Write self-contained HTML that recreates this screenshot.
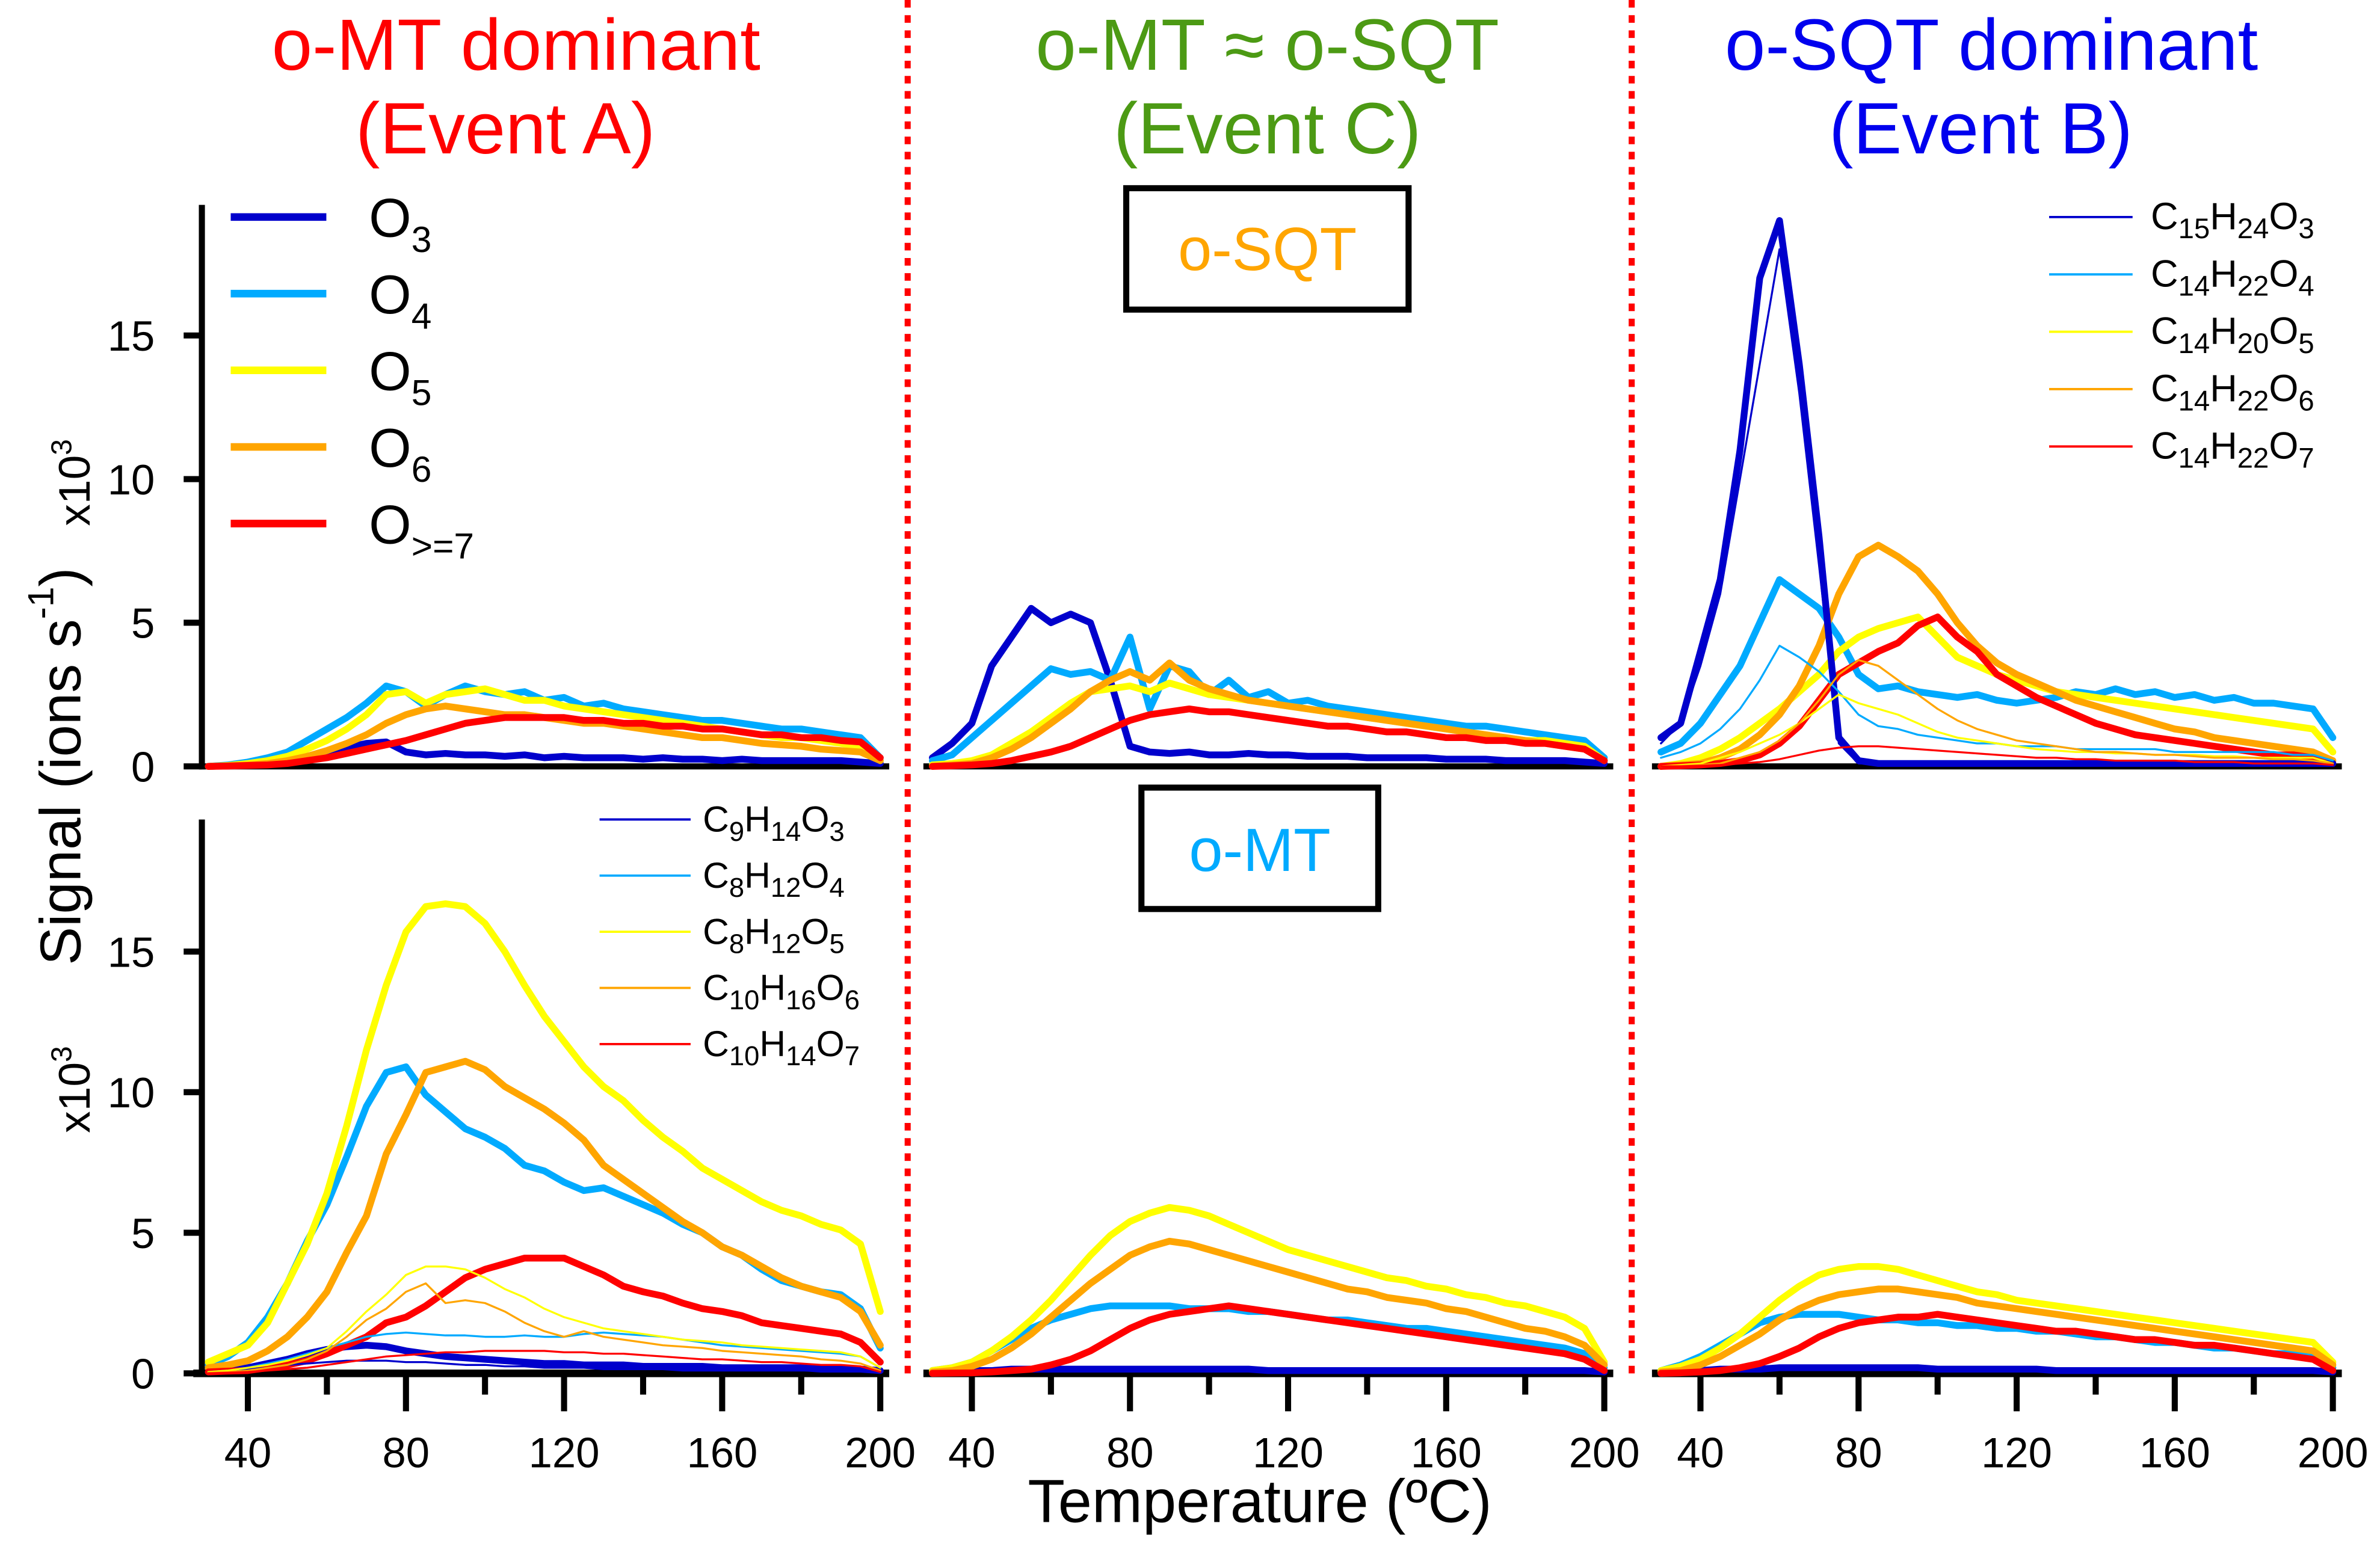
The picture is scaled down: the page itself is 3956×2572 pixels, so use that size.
<!DOCTYPE html>
<html><head><meta charset="utf-8">
<style>
html,body{margin:0;padding:0;background:#fff;}
svg{display:block;font-family:"Liberation Sans",Arial,sans-serif;}
</style></head>
<body>
<svg id="chart" width="3956" height="2572" viewBox="0 0 1568 1019.4" xmlns="http://www.w3.org/2000/svg">
<g id="static">
  <text x="340" y="46" font-size="48" fill="#ff0000" text-anchor="middle">o-MT dominant</text>
  <text x="333" y="101" font-size="48" fill="#ff0000" text-anchor="middle">(Event A)</text>
  <text x="835" y="46" font-size="48" fill="#4c9a14" text-anchor="middle">o-MT ≈ o-SQT</text>
  <text x="835" y="101" font-size="48" fill="#4c9a14" text-anchor="middle">(Event C)</text>
  <text x="1312" y="46" font-size="48" fill="#0000ee" text-anchor="middle">o-SQT dominant</text>
  <text x="1305" y="101" font-size="48" fill="#0000ee" text-anchor="middle">(Event B)</text>

  <line x1="598" y1="0" x2="598" y2="905" stroke="#ff0000" stroke-width="4" stroke-dasharray="5,5"/>
  <line x1="1075" y1="0" x2="1075" y2="905" stroke="#ff0000" stroke-width="4" stroke-dasharray="5,5"/>

  <rect x="742" y="124" width="186" height="80" fill="none" stroke="#000" stroke-width="4"/>
  <text x="835" y="178" font-size="40" fill="#ffa500" text-anchor="middle">o-SQT</text>
  <rect x="752" y="519" width="156" height="80" fill="none" stroke="#000" stroke-width="4"/>
  <text x="830" y="574" font-size="40" fill="#00aaff" text-anchor="middle">o-MT</text>

  <text transform="translate(53,505) rotate(-90)" font-size="38" text-anchor="middle">Signal (ions s<tspan font-size="24" dy="-18">-1</tspan><tspan dy="18">)</tspan></text>
  <text transform="translate(59,318) rotate(-90)" font-size="29" text-anchor="middle">x10<tspan font-size="19" dy="-12">3</tspan></text>
  <text transform="translate(59,718) rotate(-90)" font-size="29" text-anchor="middle">x10<tspan font-size="19" dy="-12">3</tspan></text>
  <text x="830" y="1003" font-size="40" text-anchor="middle">Temperature (ºC)</text>
</g>
<g id="axes"></g>
<g id="series"></g>
<g id="legends"></g>
</svg>
<script>
const temps = [30,35,40,45,50,55,60,65,70,75,80,85,90,95,100,105,110,115,120,125,130,135,140,145,150,155,160,165,170,175,180,185,190,195,200];
const xTicks = [40,80,120,160,200];
const xMinorTicks = [60,100,140,180];
const yTicks = [0,5,10,15];

// Panel 1 (Event A) top row: o-SQT
const p1TopO3 = [0,0.02,0.05,0.1,0.2,0.35,0.5,0.65,0.8,0.85,0.5,0.4,0.45,0.4,0.4,0.35,0.4,0.3,0.35,0.3,0.3,0.3,0.25,0.3,0.25,0.25,0.2,0.25,0.2,0.2,0.2,0.2,0.2,0.15,0.1];
const p1TopO4 = [0,0.05,0.15,0.3,0.5,0.9,1.3,1.7,2.2,2.8,2.6,2.1,2.5,2.8,2.6,2.5,2.6,2.3,2.4,2.1,2.2,2.0,1.9,1.8,1.7,1.6,1.6,1.5,1.4,1.3,1.3,1.2,1.1,1.0,0.3];
const p1TopO5 = [0,0.03,0.1,0.2,0.35,0.6,0.9,1.3,1.8,2.5,2.6,2.2,2.5,2.6,2.7,2.5,2.3,2.3,2.1,2.0,1.9,1.8,1.7,1.6,1.5,1.4,1.3,1.2,1.1,1.0,1.0,0.9,0.8,0.7,0.2];
const p1TopO6 = [0,0.02,0.05,0.1,0.2,0.35,0.55,0.8,1.1,1.5,1.8,2.0,2.1,2.0,1.9,1.8,1.8,1.7,1.6,1.5,1.5,1.4,1.3,1.2,1.1,1.0,1.0,0.9,0.8,0.75,0.7,0.6,0.55,0.5,0.2];
const p1TopO7 = [0,0.01,0.03,0.05,0.1,0.2,0.3,0.45,0.6,0.75,0.9,1.1,1.3,1.5,1.6,1.7,1.7,1.7,1.7,1.6,1.6,1.5,1.5,1.4,1.4,1.3,1.3,1.2,1.1,1.1,1.0,1.0,0.9,0.85,0.3];
// Panel 1 bottom row: o-MT
const p1BotO3 = [0.05,0.1,0.2,0.35,0.5,0.7,0.85,0.95,1.0,0.95,0.8,0.7,0.6,0.55,0.5,0.45,0.4,0.35,0.35,0.3,0.3,0.3,0.25,0.25,0.25,0.25,0.2,0.2,0.2,0.2,0.2,0.15,0.15,0.15,0.1];
const p1BotO4 = [0.3,0.6,1.1,2.0,3.2,4.7,6.0,7.7,9.5,10.7,10.9,9.9,9.3,8.7,8.4,8.0,7.4,7.2,6.8,6.5,6.6,6.3,6.0,5.7,5.3,5.0,4.5,4.2,3.7,3.3,3.1,2.9,2.8,2.3,0.9];
const p1BotO5 = [0.4,0.7,1.0,1.8,3.2,4.6,6.4,8.8,11.5,13.8,15.7,16.6,16.7,16.6,16.0,15.0,13.8,12.7,11.8,10.9,10.2,9.7,9.0,8.4,7.9,7.3,6.9,6.5,6.1,5.8,5.6,5.3,5.1,4.6,2.2];
const p1BotO6 = [0.2,0.3,0.45,0.8,1.3,2.0,2.9,4.3,5.6,7.8,9.2,10.7,10.9,11.1,10.8,10.2,9.8,9.4,8.9,8.3,7.4,6.9,6.4,5.9,5.4,5.0,4.5,4.2,3.8,3.4,3.1,2.9,2.7,2.2,1.0];
const p1BotO7 = [0.05,0.08,0.1,0.2,0.3,0.45,0.7,1.0,1.3,1.8,2.0,2.4,2.9,3.4,3.7,3.9,4.1,4.1,4.1,3.8,3.5,3.1,2.9,2.75,2.5,2.3,2.2,2.05,1.8,1.7,1.6,1.5,1.4,1.1,0.4];
const p1C9H14O3 = [0.05,0.1,0.15,0.2,0.3,0.35,0.4,0.45,0.45,0.45,0.4,0.4,0.35,0.3,0.3,0.25,0.25,0.2,0.2,0.2,0.15,0.15,0.15,0.15,0.1,0.1,0.1,0.1,0.1,0.1,0.1,0.1,0.1,0.1,0.05];
const p1C8H12O4 = [0.05,0.1,0.2,0.35,0.5,0.7,0.9,1.1,1.3,1.4,1.45,1.4,1.35,1.35,1.3,1.3,1.35,1.3,1.3,1.4,1.45,1.4,1.35,1.3,1.2,1.1,1.0,0.95,0.9,0.85,0.8,0.75,0.7,0.6,0.2];
const p1C8H12O5 = [0.05,0.1,0.2,0.3,0.45,0.65,0.9,1.5,2.2,2.8,3.5,3.8,3.8,3.7,3.4,3.0,2.7,2.3,2.0,1.8,1.6,1.5,1.4,1.3,1.2,1.15,1.1,1.0,0.95,0.9,0.85,0.8,0.75,0.6,0.2];
const p1C10H16O6 = [0.02,0.05,0.1,0.2,0.3,0.5,0.8,1.3,1.9,2.3,2.9,3.2,2.5,2.6,2.5,2.2,1.8,1.5,1.3,1.5,1.3,1.2,1.1,1.0,0.95,0.9,0.8,0.75,0.7,0.65,0.6,0.5,0.45,0.35,0.1];
const p1C10H14O7 = [0,0.02,0.05,0.1,0.15,0.2,0.3,0.4,0.5,0.6,0.65,0.7,0.75,0.75,0.8,0.8,0.8,0.8,0.75,0.75,0.7,0.7,0.65,0.6,0.55,0.5,0.5,0.45,0.4,0.4,0.35,0.3,0.3,0.25,0.05];

// Panel 2 (Event C)
const p2TopO3 = [0.3,0.8,1.5,3.5,4.5,5.5,5.0,5.3,5.0,3.0,0.7,0.5,0.45,0.5,0.4,0.4,0.45,0.4,0.4,0.35,0.35,0.35,0.3,0.3,0.3,0.3,0.25,0.25,0.25,0.2,0.2,0.2,0.2,0.15,0.1];
const p2TopO4 = [0.2,0.4,1.0,1.6,2.2,2.8,3.4,3.2,3.3,3.0,4.5,2.0,3.5,3.3,2.5,3.0,2.4,2.6,2.2,2.3,2.1,2.0,1.9,1.8,1.7,1.6,1.5,1.4,1.4,1.3,1.2,1.1,1.0,0.9,0.3];
const p2TopO5 = [0.05,0.1,0.2,0.4,0.8,1.2,1.7,2.2,2.6,2.7,2.8,2.6,2.9,2.7,2.5,2.4,2.3,2.2,2.1,2.0,1.9,1.8,1.7,1.6,1.5,1.4,1.3,1.2,1.1,1.0,0.9,0.9,0.8,0.7,0.2];
const p2TopO6 = [0,0.05,0.1,0.3,0.6,1.0,1.5,2.0,2.6,3.0,3.3,3.0,3.6,3.0,2.7,2.5,2.3,2.2,2.1,2.0,1.9,1.8,1.7,1.6,1.5,1.4,1.3,1.2,1.1,1.0,0.9,0.8,0.7,0.6,0.2];
const p2TopO7 = [0,0.02,0.05,0.1,0.2,0.35,0.5,0.7,1.0,1.3,1.6,1.8,1.9,2.0,1.9,1.9,1.8,1.7,1.6,1.5,1.4,1.4,1.3,1.2,1.2,1.1,1.0,1.0,0.9,0.9,0.8,0.8,0.7,0.6,0.2];
const p2BotO3 = [0.05,0.1,0.1,0.1,0.15,0.15,0.15,0.15,0.15,0.15,0.15,0.15,0.15,0.15,0.15,0.15,0.15,0.1,0.1,0.1,0.1,0.1,0.1,0.1,0.1,0.1,0.1,0.1,0.1,0.1,0.1,0.1,0.1,0.1,0.05];
const p2BotO4 = [0.1,0.2,0.4,0.8,1.2,1.6,1.9,2.1,2.3,2.4,2.4,2.4,2.4,2.3,2.3,2.3,2.2,2.2,2.1,2.0,1.9,1.9,1.8,1.7,1.6,1.6,1.5,1.4,1.3,1.2,1.1,1.0,0.9,0.7,0.2];
const p2BotO5 = [0.1,0.2,0.4,0.8,1.3,1.9,2.6,3.4,4.2,4.9,5.4,5.7,5.9,5.8,5.6,5.3,5.0,4.7,4.4,4.2,4.0,3.8,3.6,3.4,3.3,3.1,3.0,2.8,2.7,2.5,2.4,2.2,2.0,1.6,0.4];
const p2BotO6 = [0.05,0.1,0.25,0.5,0.9,1.4,2.0,2.6,3.2,3.7,4.2,4.5,4.7,4.6,4.4,4.2,4.0,3.8,3.6,3.4,3.2,3.0,2.9,2.7,2.6,2.5,2.3,2.2,2.0,1.8,1.6,1.5,1.3,1.0,0.3];
const p2BotO7 = [0,0.01,0.02,0.05,0.1,0.15,0.3,0.5,0.8,1.2,1.6,1.9,2.1,2.2,2.3,2.4,2.3,2.2,2.1,2.0,1.9,1.8,1.7,1.6,1.5,1.4,1.3,1.2,1.1,1.0,0.9,0.8,0.7,0.5,0.1];

// Panel 3 (Event B)
const p3TopO3 = [1,1.5,4,6.5,11,17,19,14,8,1,0.2,0.1,0.1,0.1,0.1,0.1,0.1,0.1,0.1,0.1,0.1,0.1,0.1,0.1,0.1,0.1,0.1,0.1,0.1,0.1,0.1,0.1,0.1,0.1,0.1];
const p3TopO4 = [0.5,0.8,1.5,2.5,3.5,5,6.5,6.0,5.5,4.5,3.2,2.7,2.8,2.6,2.5,2.4,2.5,2.3,2.2,2.3,2.4,2.6,2.5,2.7,2.5,2.6,2.4,2.5,2.3,2.4,2.2,2.2,2.1,2.0,1.0];
const p3TopO5 = [0,0.1,0.3,0.6,1,1.5,2.0,2.6,3.2,4.0,4.5,4.8,5.0,5.2,4.5,3.8,3.5,3.2,3.0,2.8,2.6,2.5,2.4,2.3,2.2,2.1,2.0,1.9,1.8,1.7,1.6,1.5,1.4,1.3,0.5];
const p3TopO6 = [0,0.05,0.1,0.3,0.6,1.1,1.8,2.8,4.2,6.0,7.3,7.7,7.3,6.8,6.0,5.0,4.2,3.6,3.2,2.9,2.6,2.3,2.1,1.9,1.7,1.5,1.3,1.2,1.0,0.9,0.8,0.7,0.6,0.5,0.2];
const p3TopO7 = [0,0.02,0.05,0.1,0.2,0.4,0.8,1.4,2.3,3.2,3.6,4.0,4.3,4.9,5.2,4.5,4.0,3.2,2.8,2.4,2.1,1.8,1.5,1.3,1.1,1.0,0.9,0.8,0.7,0.6,0.5,0.4,0.4,0.3,0.1];
const p3C15H24O3 = [0.8,1.5,3.5,6,10,14,18,13,7,0.8,0.1,0.1,0.1,0.1,0.1,0.1,0.1,0.1,0.1,0.1,0.1,0.1,0.1,0.1,0.1,0.1,0.1,0.1,0.1,0.1,0.1,0.1,0.1,0.1,0.1];
const p3C14H22O4 = [0.3,0.5,0.8,1.3,2,3,4.2,3.8,3.3,2.6,1.8,1.4,1.3,1.1,1.0,0.9,0.8,0.8,0.7,0.7,0.7,0.6,0.6,0.6,0.6,0.6,0.5,0.5,0.5,0.5,0.5,0.5,0.4,0.4,0.2];
const p3C14H20O5 = [0,0.05,0.1,0.3,0.5,0.8,1.1,1.5,2.0,2.5,2.2,2.0,1.8,1.5,1.2,1.0,0.9,0.8,0.7,0.6,0.55,0.5,0.5,0.45,0.45,0.4,0.4,0.4,0.35,0.35,0.3,0.3,0.3,0.3,0.1];
const p3C14H22O6 = [0,0.02,0.05,0.1,0.3,0.5,0.9,1.5,2.3,3.2,3.7,3.5,3.0,2.5,2.0,1.6,1.3,1.1,0.9,0.8,0.7,0.6,0.5,0.5,0.45,0.4,0.4,0.35,0.3,0.3,0.3,0.25,0.25,0.2,0.1];
const p3C14H22O7 = [0,0,0.02,0.05,0.1,0.15,0.25,0.4,0.55,0.65,0.7,0.7,0.65,0.6,0.55,0.5,0.45,0.4,0.35,0.3,0.3,0.25,0.25,0.2,0.2,0.2,0.2,0.15,0.15,0.15,0.1,0.1,0.1,0.1,0.05];
const p3BotO3 = [0.05,0.1,0.1,0.15,0.15,0.15,0.2,0.2,0.2,0.2,0.2,0.2,0.2,0.2,0.15,0.15,0.15,0.15,0.15,0.15,0.1,0.1,0.1,0.1,0.1,0.1,0.1,0.1,0.1,0.1,0.1,0.1,0.1,0.1,0.05];
const p3BotO4 = [0.1,0.3,0.6,1.0,1.4,1.8,2.0,2.1,2.1,2.1,2.0,1.9,1.9,1.8,1.8,1.7,1.7,1.6,1.6,1.5,1.5,1.4,1.3,1.3,1.2,1.1,1.1,1.0,0.9,0.9,0.8,0.7,0.7,0.6,0.2];
const p3BotO5 = [0.1,0.25,0.5,0.9,1.4,2.0,2.6,3.1,3.5,3.7,3.8,3.8,3.7,3.5,3.3,3.1,2.9,2.8,2.6,2.5,2.4,2.3,2.2,2.1,2.0,1.9,1.8,1.7,1.6,1.5,1.4,1.3,1.2,1.1,0.4];
const p3BotO6 = [0.05,0.1,0.3,0.6,1.0,1.4,1.9,2.3,2.6,2.8,2.9,3.0,3.0,2.9,2.8,2.7,2.5,2.4,2.3,2.2,2.1,2.0,1.9,1.8,1.7,1.6,1.5,1.4,1.3,1.2,1.1,1.0,0.9,0.8,0.3];
const p3BotO7 = [0,0.02,0.05,0.1,0.2,0.35,0.6,0.9,1.3,1.6,1.8,1.9,2.0,2.0,2.1,2.0,1.9,1.8,1.7,1.6,1.5,1.5,1.4,1.3,1.2,1.2,1.1,1.0,1.0,0.9,0.8,0.7,0.6,0.5,0.1];

const legendTopLabels = ["O","O","O","O","O"];
const legendTopSubs = ["3","4","5","6",">=7"];
const legendBotLabels = [["C","9","H","14","O","3"],["C","8","H","12","O","4"],["C","8","H","12","O","5"],["C","10","H","16","O","6"],["C","10","H","14","O","7"]];
const legendRightLabels = [["C","15","H","24","O","3"],["C","14","H","22","O","4"],["C","14","H","20","O","5"],["C","14","H","22","O","6"],["C","14","H","22","O","7"]];

const NS = "http://www.w3.org/2000/svg";
const COL = {o3:"#0000cc", o4:"#00aaff", o5:"#ffff00", o6:"#ffa500", o7:"#ff0000"};
const panelOffset = [0, 477, 957];
const rowBase = [505, 905];
const rowUnit = [18.93, 18.53];
function xScale(p, t){ return 163.3 + panelOffset[p] + (t - 40) * 2.604; }
function yScale(r, v){ return rowBase[r] - v * rowUnit[r]; }

function mk(tag, attrs, parent){
  const e = document.createElementNS(NS, tag);
  for (const k in attrs) e.setAttribute(k, attrs[k]);
  parent.appendChild(e);
  return e;
}
const axes = document.getElementById("axes");
const series = document.getElementById("series");
const legends = document.getElementById("legends");

for (let p = 0; p < 3; p++){
  const xl = xScale(p, 28.5), xr = xScale(p, 201.5);
  const top = mk("line", {x1:xl-2, y1:505, x2:xr+2, y2:505, stroke:"#000", "stroke-width":4}, axes);
  
  
  const bot = mk("line", {x1:(p===0?xl-6:xl-2), y1:905, x2:xr+2, y2:905, stroke:"#000", "stroke-width":5}, axes);
  
  
  xTicks.forEach(t => {
    const x = xScale(p, t);
    const tk = mk("line", {x1:x, y1:905, x2:x, y2:930, stroke:"#000", "stroke-width":4}, axes);
    
    
    const lb = mk("text", {x:x, y:967, "font-size":28, "text-anchor":"middle"}, axes);
    lb.textContent = t;
    
    
  });
  xMinorTicks.forEach(t => {
    const x = xScale(p, t);
    const tk = mk("line", {x1:x, y1:905, x2:x, y2:919, stroke:"#000", "stroke-width":4}, axes);
    
    
  });
}
[[135,505],[540,905]].forEach((rng, r) => {
  const ax = mk("line", {x1:133, y1:rng[0], x2:133, y2:rng[1]+2, stroke:"#000", "stroke-width":4}, axes);
  
  
  yTicks.forEach(v => {
    const y = yScale(r, v);
    const tk = mk("line", {x1:121, y1:y, x2:133, y2:y, stroke:"#000", "stroke-width":4}, axes);
    
    
    const lb = mk("text", {x:102, y:y+10, "font-size":28, "text-anchor":"end"}, axes);
    lb.textContent = v;
    
    
  });
});

function drawSeries(p, r, arr, color, w, name){
  let d = "";
  arr.forEach((v, i) => { d += (i ? "L" : "M") + xScale(p, temps[i]).toFixed(2) + "," + yScale(r, v).toFixed(2); });
  const path = mk("path", {d:d, fill:"none", stroke:color, "stroke-width":w, "stroke-linejoin":"round", "stroke-linecap":"round"}, series);
  
  
}
const THICK = 4.5, THIN = 1.3;
drawSeries(0,0,p1TopO3,COL.o3,THICK,'p1-top-o3-line');
drawSeries(0,0,p1TopO4,COL.o4,THICK,'p1-top-o4-line');
drawSeries(0,0,p1TopO5,COL.o5,THICK,'p1-top-o5-line');
drawSeries(0,0,p1TopO6,COL.o6,THICK,'p1-top-o6-line');
drawSeries(0,0,p1TopO7,COL.o7,THICK,'p1-top-o7-line');
drawSeries(0,1,p1BotO3,COL.o3,THICK,'p1-bottom-o3-line');
drawSeries(0,1,p1BotO4,COL.o4,THICK,'p1-bottom-o4-line');
drawSeries(0,1,p1BotO5,COL.o5,THICK,'p1-bottom-o5-line');
drawSeries(0,1,p1BotO6,COL.o6,THICK,'p1-bottom-o6-line');
drawSeries(0,1,p1BotO7,COL.o7,THICK,'p1-bottom-o7-line');
drawSeries(0,1,p1C9H14O3,COL.o3,THIN,'p1-c9h14o3-line');
drawSeries(0,1,p1C8H12O4,COL.o4,THIN,'p1-c8h12o4-line');
drawSeries(0,1,p1C8H12O5,COL.o5,THIN,'p1-c8h12o5-line');
drawSeries(0,1,p1C10H16O6,COL.o6,THIN,'p1-c10h16o6-line');
drawSeries(0,1,p1C10H14O7,COL.o7,THIN,'p1-c10h14o7-line');
drawSeries(1,0,p2TopO3,COL.o3,THICK,'p2-top-o3-line');
drawSeries(1,0,p2TopO4,COL.o4,THICK,'p2-top-o4-line');
drawSeries(1,0,p2TopO5,COL.o5,THICK,'p2-top-o5-line');
drawSeries(1,0,p2TopO6,COL.o6,THICK,'p2-top-o6-line');
drawSeries(1,0,p2TopO7,COL.o7,THICK,'p2-top-o7-line');
drawSeries(1,1,p2BotO3,COL.o3,THICK,'p2-bottom-o3-line');
drawSeries(1,1,p2BotO4,COL.o4,THICK,'p2-bottom-o4-line');
drawSeries(1,1,p2BotO5,COL.o5,THICK,'p2-bottom-o5-line');
drawSeries(1,1,p2BotO6,COL.o6,THICK,'p2-bottom-o6-line');
drawSeries(1,1,p2BotO7,COL.o7,THICK,'p2-bottom-o7-line');
drawSeries(2,0,p3TopO4,COL.o4,THICK,'p3-top-o4-line');
drawSeries(2,0,p3TopO5,COL.o5,THICK,'p3-top-o5-line');
drawSeries(2,0,p3TopO6,COL.o6,THICK,'p3-top-o6-line');
drawSeries(2,0,p3TopO7,COL.o7,THICK,'p3-top-o7-line');
drawSeries(2,0,p3TopO3,COL.o3,THICK,'p3-top-o3-line');
drawSeries(2,0,p3C15H24O3,COL.o3,THIN,'p3-c15h24o3-line');
drawSeries(2,0,p3C14H22O4,COL.o4,THIN,'p3-c14h22o4-line');
drawSeries(2,0,p3C14H20O5,COL.o5,THIN,'p3-c14h20o5-line');
drawSeries(2,0,p3C14H22O6,COL.o6,THIN,'p3-c14h22o6-line');
drawSeries(2,0,p3C14H22O7,COL.o7,THIN,'p3-c14h22o7-line');
drawSeries(2,1,p3BotO3,COL.o3,THICK,'p3-bottom-o3-line');
drawSeries(2,1,p3BotO4,COL.o4,THICK,'p3-bottom-o4-line');
drawSeries(2,1,p3BotO5,COL.o5,THICK,'p3-bottom-o5-line');
drawSeries(2,1,p3BotO6,COL.o6,THICK,'p3-bottom-o6-line');
drawSeries(2,1,p3BotO7,COL.o7,THICK,'p3-bottom-o7-line');

const legCols = [COL.o3, COL.o4, COL.o5, COL.o6, COL.o7];
legendTopLabels.forEach((lab, i) => {
  const y = 143 + i * 50.5;
  const ln = mk("line", {x1:152, y1:y, x2:215, y2:y, stroke:legCols[i], "stroke-width":5}, legends);
  
  
  const t = mk("text", {x:243, y:y+13, "font-size":36}, legends);
  
  
  t.textContent = lab;
  const s = mk("tspan", {"font-size":24, dy:10}, t);
  s.textContent = legendTopSubs[i];
});
function formulaLegend(labels, x0, x1, tx, y0, dy, fs, name){
  labels.forEach((parts, i) => {
    const y = y0 + i * dy;
    const ln = mk("line", {x1:x0, y1:y, x2:x1, y2:y, stroke:legCols[i], "stroke-width":1.5}, legends);
    
    
    const t = mk("text", {x:tx, y:y+8, "font-size":fs}, legends);
    
    
    parts.forEach((pt, k) => {
      const sp = mk("tspan", k % 2 ? {"font-size":fs*0.75, dy:6} : {dy:(k ? -6 : 0)}, t);
      sp.textContent = pt;
    });
  });
}
formulaLegend(legendBotLabels, 395, 455, 463, 540, 37, 24, 'legend-bottom');
formulaLegend(legendRightLabels, 1350, 1405, 1417, 143, 37.8, 25, 'legend-right');
</script>
</body></html>
